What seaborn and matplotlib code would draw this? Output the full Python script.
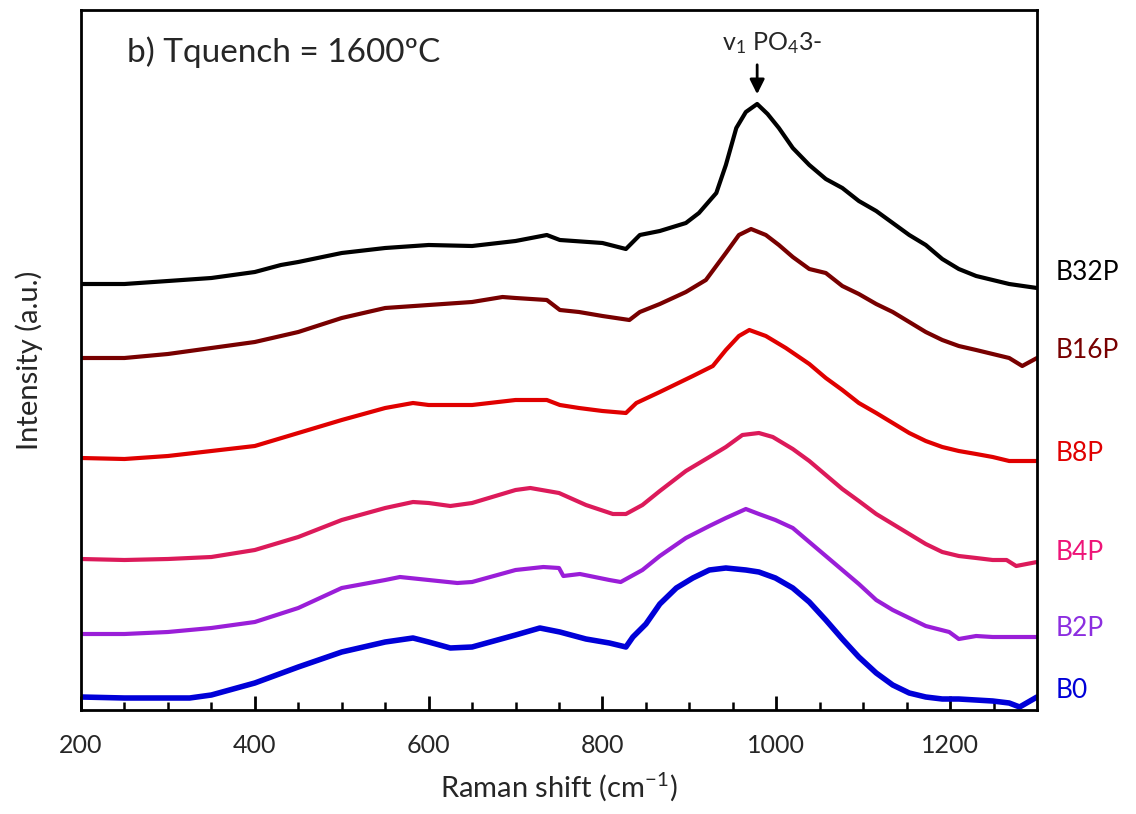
import matplotlib
matplotlib.use("Agg")
import matplotlib.pyplot as plt
import matplotlib.transforms as mtransforms
from matplotlib.ticker import NullLocator, FixedLocator
import seaborn as sns
import pandas as pd

# ---------------- data (stacked intensities, a.u.) ----------------
x_b32p = [200, 250, 300, 350, 400, 430, 450, 500, 550, 600, 650, 700, 736, 751, 800, 827, 843, 866, 896,
          911, 931, 942, 954, 965, 978, 990, 1003, 1019, 1038, 1057, 1076, 1095, 1115, 1134, 1153, 1172,
          1191, 1210, 1230, 1249, 1268, 1300]
y_b32p = [426, 426, 429, 432, 438, 445, 448, 457, 462, 465, 464, 469, 475, 470, 467, 461, 475, 479, 487,
          497, 517, 545, 582, 598, 606, 596, 582, 562, 545, 531, 522, 509, 499, 487, 475, 465,
          451, 441, 434, 430, 426, 422]

x_b16p = [200, 250, 300, 350, 400, 450, 500, 550, 600, 650, 685, 700, 736, 751, 773, 800, 831, 843, 866,
          896, 919, 942, 957, 971, 988, 1003, 1019, 1038, 1057, 1076, 1095, 1115, 1134, 1153, 1172, 1191,
          1210, 1230, 1249, 1268, 1283, 1300]
y_b16p = [352, 352, 356, 362, 368, 378, 392, 402, 405, 408, 413, 412, 410, 400, 398, 394, 390, 398, 406,
          418, 430, 457, 475, 481, 475, 465, 453, 441, 437, 424, 416, 406, 398, 388, 378, 370,
          364, 360, 356, 352, 344, 352]

x_b8p = [200, 250, 300, 350, 400, 450, 500, 550, 582, 600, 650, 700, 736, 751, 773, 800, 827, 839, 866,
         904, 927, 942, 957, 969, 988, 1011, 1038, 1057, 1076, 1095, 1115, 1134, 1153, 1172, 1191, 1210,
         1230, 1249, 1268, 1300]
y_b8p = [252, 251, 254, 259, 264, 277, 290, 302, 307, 305, 305, 310, 310, 305, 302, 299, 297, 307, 318,
         334, 344, 360, 374, 380, 374, 362, 346, 332, 320, 307, 297, 287, 277, 269, 263, 259,
         256, 253, 249, 249]

x_b4p = [200, 250, 300, 350, 400, 450, 500, 550, 582, 600, 625, 650, 700, 717, 750, 781, 812, 827, 846,
         866, 896, 923, 942, 961, 980, 996, 1019, 1038, 1057, 1076, 1095, 1115, 1134, 1153, 1172, 1191,
         1210, 1230, 1249, 1265, 1276, 1300]
y_b4p = [151, 150, 151, 153, 160, 173, 190, 202, 208, 207, 204, 207, 220, 222, 217, 205, 196, 196, 205,
         219, 239, 253, 263, 275, 277, 273, 261, 249, 235, 221, 209, 196, 186, 176, 166, 158,
         154, 152, 150, 150, 144, 148]

x_b2p = [200, 250, 300, 350, 400, 450, 500, 550, 567, 600, 633, 650, 700, 732, 750, 755, 774, 808, 821,
         846, 866, 896, 923, 942, 965, 980, 999, 1019, 1038, 1057, 1076, 1095, 1115, 1134, 1153, 1172,
         1199, 1210, 1230, 1249, 1300]
y_b2p = [76, 76, 78, 82, 88, 102, 122, 130, 133, 130, 127, 128, 140, 143, 142, 134, 136, 130, 128,
         140, 154, 172, 184, 192, 201, 196, 190, 182, 168, 154, 140, 126, 110, 100, 92, 84,
         78, 71, 74, 73, 73]

x_b0 = [200, 250, 300, 325, 350, 400, 450, 500, 550, 582, 600, 625, 650, 700, 728, 751, 781, 808, 827,
        835, 850, 866, 885, 904, 923, 942, 965, 980, 999, 1019, 1038, 1057, 1076, 1095, 1115, 1134,
        1153, 1172, 1191, 1210, 1249, 1268, 1280, 1300]
y_b0 = [13, 12, 12, 12, 15, 27, 43, 58, 68, 72, 68, 62, 63, 75, 82, 78, 71, 67, 63,
        73, 86, 106, 122, 132, 140, 142, 140, 138, 132, 122, 108, 90, 71, 53, 37, 25,
        17, 13, 11, 11, 9, 7, 3, 13]

samples = ["B0", "B2P", "B4P", "B8P", "B16P", "B32P"]
label_y = [20, 82, 157, 257, 360, 437]
x_ticks = [200, 400, 600, 800, 1000, 1200]
x_minor_ticks = [250, 300, 350, 450, 500, 550, 650, 700, 750, 850, 900, 950,
                 1050, 1100, 1150, 1250]

line_colors = {"B0": "#0000d8", "B2P": "#9a1ed8", "B4P": "#dc1a5a",
               "B8P": "#e00000", "B16P": "#780000", "B32P": "#000000"}
label_colors = {"B0": "#0000d8", "B2P": "#8c2ee0", "B4P": "#ee1478",
                "B8P": "#e00000", "B16P": "#780000", "B32P": "#000000"}
widths = {"B0": 4.0, "B2P": 3.0, "B4P": 3.0, "B8P": 3.0, "B16P": 3.0, "B32P": 3.0}

series = {"B0": (x_b0, y_b0), "B2P": (x_b2p, y_b2p), "B4P": (x_b4p, y_b4p),
          "B8P": (x_b8p, y_b8p), "B16P": (x_b16p, y_b16p), "B32P": (x_b32p, y_b32p)}

frames = []
for s in samples:
    xs, ys = series[s]
    frames.append(pd.DataFrame({"shift": xs, "intensity": ys, "sample": s}))
df = pd.concat(frames, ignore_index=True)

# ---------------- plot ----------------
sns.set_theme(style="white")
plt.rcParams.update({
    "font.family": ["Lato", "DejaVu Sans"],
    "mathtext.default": "regular",
    "xtick.bottom": True,
    "ytick.left": False,
})

fig = plt.figure(figsize=(11.36, 8.14), dpi=100)
ax = fig.add_axes([81 / 1136, 1 - 710 / 814, (1037 - 81) / 1136, (710 - 10) / 814])

for s in samples:
    sub = df[df["sample"] == s]
    sns.lineplot(data=sub, x="shift", y="intensity", ax=ax, color=line_colors[s],
                 lw=widths[s], estimator=None, sort=False, legend=False)

ax.set_xlim(200, 1300)
ax.set_ylim(0, 700)
ax.set_xticks(x_ticks)
ax.set_xticks(x_minor_ticks, minor=True)
ax.set_xticklabels([str(t) for t in x_ticks])
ax.yaxis.set_major_locator(NullLocator())
ax.tick_params(axis="x", which="major", direction="in", length=10, width=2,
               labelsize=18, pad=17, color="black", bottom=True)
ax.tick_params(axis="x", which="minor", direction="in", length=6, width=1.8,
               color="black", bottom=True)
for sp in ax.spines.values():
    sp.set_color("black")
    sp.set_linewidth(2.0)

ax.set_xlabel("Raman shift (cm$^{-1}$)", fontsize=21, labelpad=10)
ax.set_ylabel("Intensity (a.u.)", fontsize=21, labelpad=27)

ax.text(253, 658, "b) Tquench = 1600ºC", fontsize=24, ha="left", va="center")
ax.annotate("", xy=(978, 613), xytext=(978, 648),
            arrowprops=dict(arrowstyle="-|>", color="black", lw=2, mutation_scale=22))
ax.text(995, 667, "v$_1$ PO$_4$3-", fontsize=18, ha="center", va="center")

trans = mtransforms.blended_transform_factory(ax.transAxes, ax.transData)
for s, yl in zip(samples, label_y):
    ax.text(1.019, yl, s, transform=trans, fontsize=19, color=label_colors[s],
            ha="left", va="center", clip_on=False)

fig.savefig("out.png", dpi=100)
